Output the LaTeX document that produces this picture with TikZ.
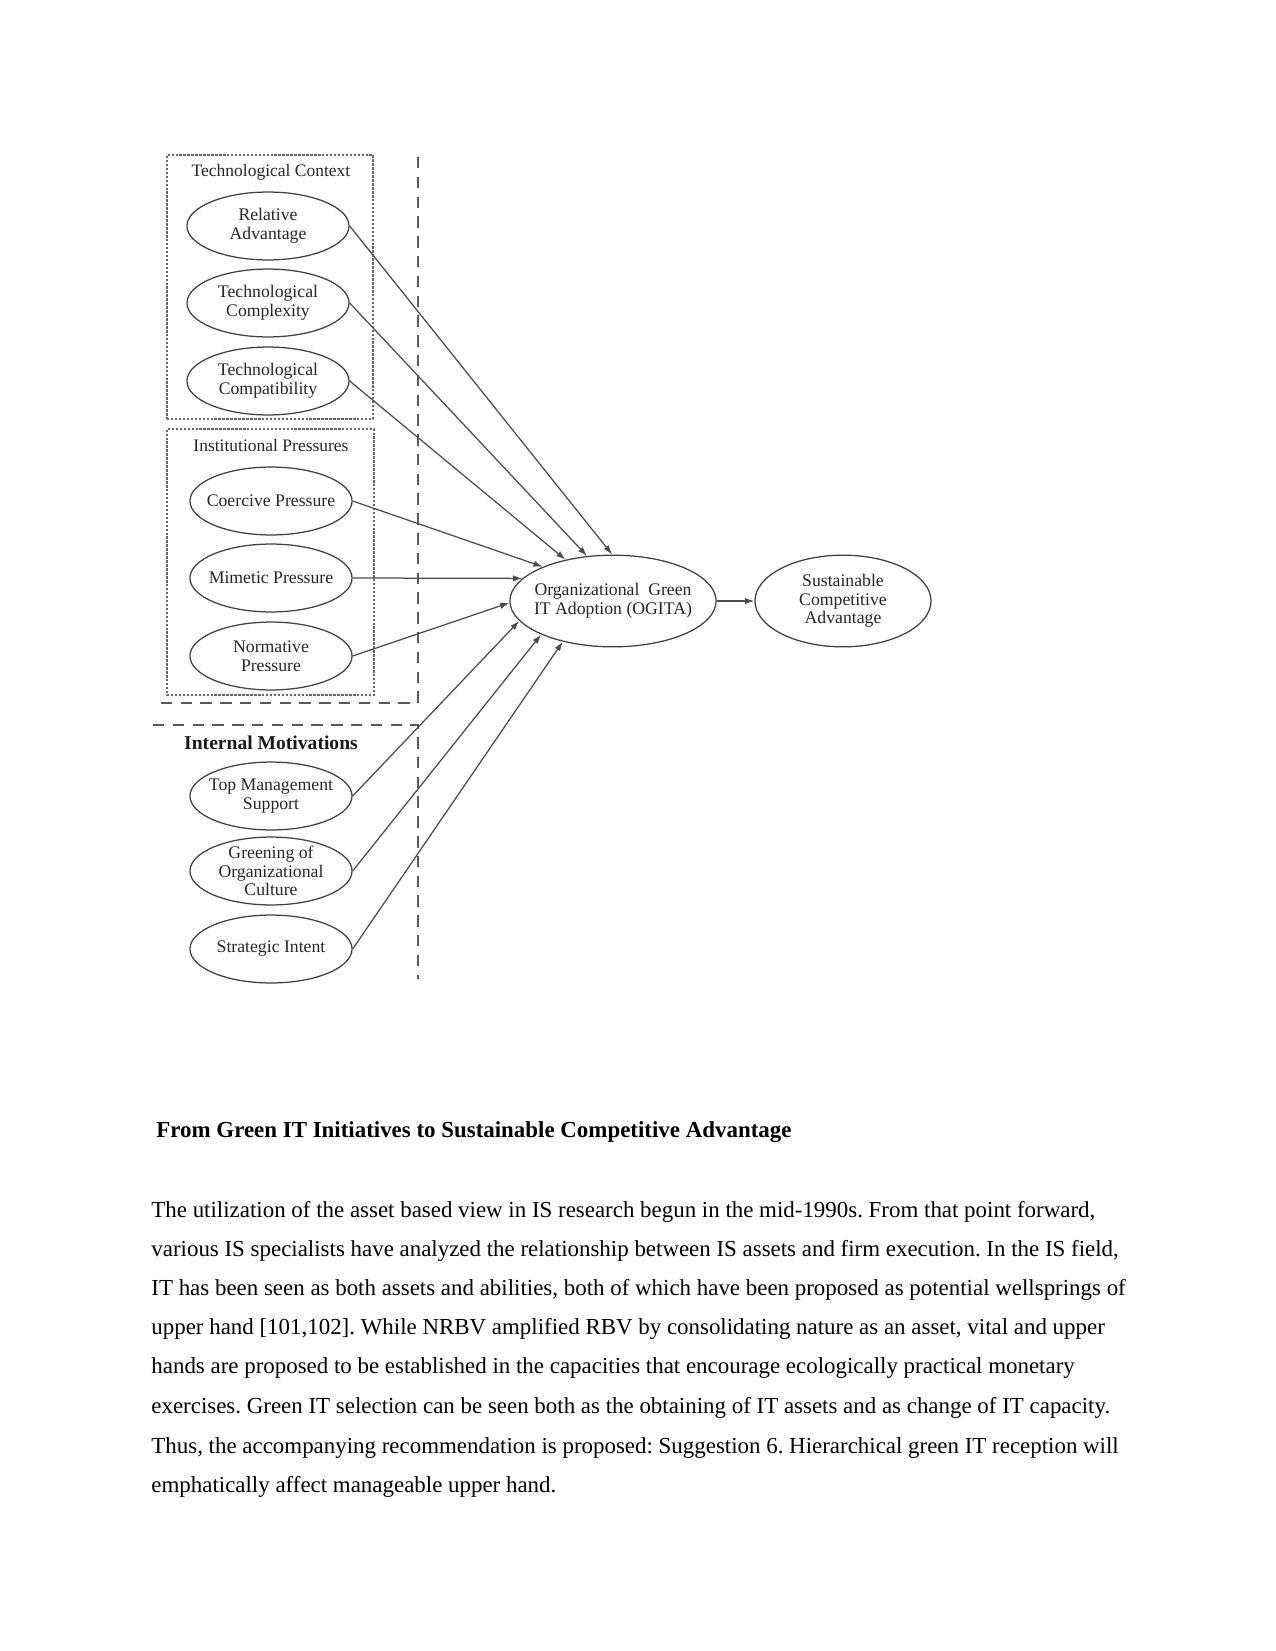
\documentclass[tikz,border=0pt]{standalone}
\usepackage{fontspec}
\setmainfont{Liberation Serif}
\usetikzlibrary{shapes.geometric,arrows.meta}
\frenchspacing
\begin{document}
\begin{tikzpicture}[x=0.48pt,y=-0.48pt,
  el/.style={ellipse,draw=black!75,line width=0.6pt,inner xsep=-12pt,inner ysep=-3pt,
    minimum width=77.8pt,minimum height=32.6pt,align=center,
    font=\fontsize{8.5}{9}\selectfont,text=black!85},
  bigel/.style={el,minimum width=99pt,minimum height=44pt},
  grp/.style={draw=black!60,line width=0.9pt,dash pattern=on 1.2pt off 0.7pt},
  sep/.style={draw=black!65,line width=0.8pt,dash pattern=on 5.5pt off 4pt},
  gtitle/.style={font=\fontsize{8.4}{9}\selectfont,text=black!85},
  btitle/.style={font=\fontsize{9.4}{10}\selectfont\bfseries,text=black!90},
  arr/.style={draw=black!70,line width=0.6pt,-{Latex[length=4.5pt,width=3pt]}},
  body/.style={anchor=base west,inner sep=0pt,font=\fontsize{11}{13}\selectfont},
  head/.style={body,font=\fontsize{11}{13}\selectfont\bfseries}
]
\useasboundingbox[fill=white] (0,0) rectangle (1275,1651);

% group boxes
\node[grp,draw,minimum width=98.9pt,minimum height=126.7pt,inner sep=0pt] (techbox) at (270,287) {};
\node[grp,draw,minimum width=99.4pt,minimum height=127.7pt,inner sep=0pt] (instbox) at (270.5,562) {};

% dashed separators
\coordinate (s1) at (418,157);
\coordinate (s2) at (418,703);
\coordinate (s3) at (153,703);
\coordinate (s4) at (153,725);
\coordinate (s5) at (418,725);
\coordinate (s6) at (418,979);
\draw[sep] (s1) -- (s2) -- (s3);
\draw[sep] (s4) -- (s5) -- (s6);

% titles
\node[gtitle] (tctitle) at (271,172) {Technological Context};
\node[gtitle] (iptitle) at (271,446) {Institutional Pressures};
\node[btitle] (imtitle) at (271,743) {Internal Motivations};

% ellipses
\node[el] (ra) at (268,226) {Relative\\Advantage};
\node[el] (tcx) at (268,303) {Technological\\Complexity};
\node[el] (tcp) at (268,381) {Technological\\Compatibility};
\node[el] (cp) at (271,501) {Coercive Pressure};
\node[el] (mp) at (271,578) {Mimetic Pressure};
\node[el] (np) at (271,656) {Normative\\Pressure};
\node[el] (tm) at (271,796) {Top Management\\Support};
\node[el] (go) at (271,871) {Greening of\\Organizational\\Culture};
\node[el] (si) at (271,949) {Strategic Intent};

\node[bigel] (og) at (613,601) {Organizational\ \ Green\\IT Adoption (OGITA)};
\node[el,minimum width=84.5pt,minimum height=44pt] (sca) at (843,601) {Sustainable\\Competitive\\Advantage};

% arrows
\draw[arr] (ra.east) -- (og.91);
\draw[arr] (tcx.east) -- (og.120);
\draw[arr] (tcp.east) -- (og.139);
\draw[arr] (cp.east) -- (og.154);
\draw[arr] (mp.east) -- (og.166);
\draw[arr] (np.east) -- (og.181);
\draw[arr] (tm.east) -- (og.192);
\draw[arr] (go.east) -- (og.205);
\draw[arr] (si.east) -- (og.219);
\draw[arr] (og.east) -- (sca.west);

% text
\node[head] (h) at (156,1137) {From Green IT Initiatives to Sustainable Competitive Advantage};
\node[body] (l1) at (151,1217) {The utilization of the asset based view in IS research begun in the mid-1990s. From that point forward,};
\node[body] (l2) at (151,1256) {various IS specialists have analyzed the relationship between IS assets and firm execution. In the IS field,};
\node[body] (l3) at (151,1295) {IT has been seen as both assets and abilities, both of which have been proposed as potential wellsprings of};
\node[body] (l4) at (151,1334) {upper hand [101,102]. While NRBV amplified RBV by consolidating nature as an asset, vital and upper};
\node[body] (l5) at (151,1373) {hands are proposed to be established in the capacities that encourage ecologically practical monetary};
\node[body] (l6) at (151,1413) {exercises. Green IT selection can be seen both as the obtaining of IT assets and as change of IT capacity.};
\node[body] (l7) at (151,1453) {Thus, the accompanying recommendation is proposed: Suggestion 6. Hierarchical green IT reception will};
\node[body] (l8) at (151,1492) {emphatically affect manageable upper hand.};
\end{tikzpicture}
\end{document}
